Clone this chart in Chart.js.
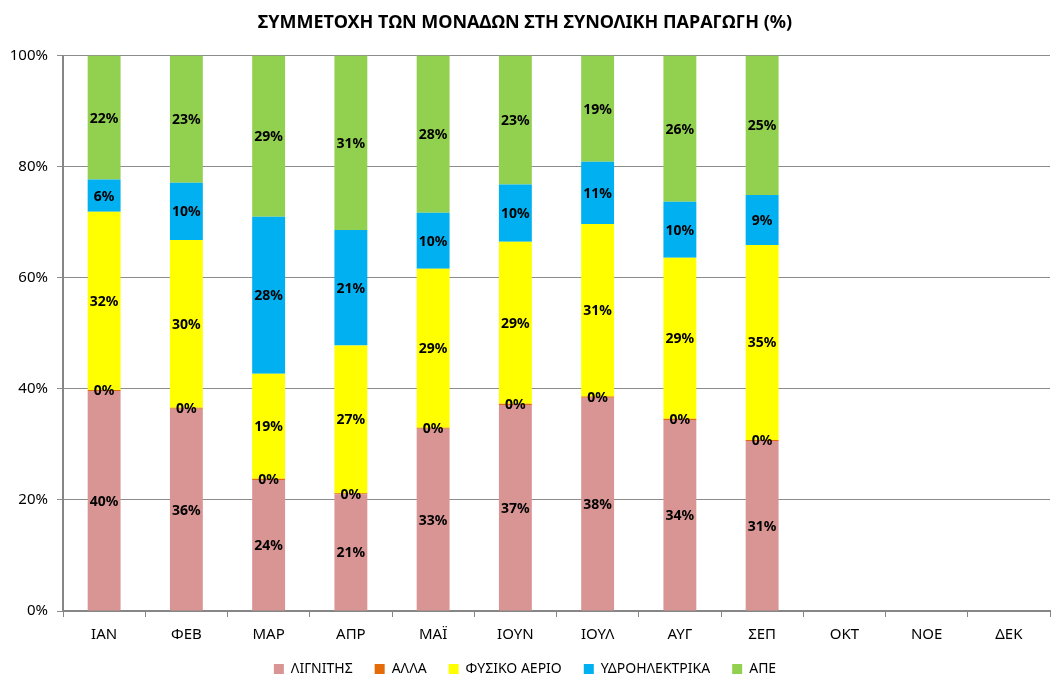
<!DOCTYPE html>
<html>
<head>
<meta charset="utf-8">
<script src="https://cdn.jsdelivr.net/npm/chart.js@4.4.0/dist/chart.umd.min.js"></script>
<style>
  html, body { margin: 0; padding: 0; background: #fff; }
  #wrap { width: 1051px; height: 677px; }
</style>
</head>
<body>
<div id="wrap"><canvas id="chart"></canvas></div>
<script>
const months = ['ΙΑΝ', 'ΦΕΒ', 'ΜΑΡ', 'ΑΠΡ', 'ΜΑΪ', 'ΙΟΥΝ', 'ΙΟΥΛ', 'ΑΥΓ', 'ΣΕΠ', 'ΟΚΤ', 'ΝΟΕ', 'ΔΕΚ'];
const lignite = [39.6, 36.4, 23.6, 21.0, 32.8, 37.1, 38.4, 34.4, 30.6, null, null, null];
const other   = [0.2, 0.2, 0.2, 0.2, 0.2, 0.2, 0.2, 0.2, 0.2, null, null, null];
const gas     = [32.1, 30.2, 18.9, 26.6, 28.6, 29.2, 31.1, 29.0, 35.1, null, null, null];
const hydro   = [5.8, 10.3, 28.3, 20.8, 10.1, 10.3, 11.2, 10.1, 9.0, null, null, null];
const res     = [22.3, 22.9, 29.0, 31.4, 28.3, 23.2, 19.1, 26.3, 25.1, null, null, null];
const yTicks  = ['0%', '20%', '40%', '60%', '80%', '100%'];

const FONT = "'Noto Sans', 'DejaVu Sans', sans-serif";

// percentage labels drawn in the middle of each segment
const segLabels = {
  id: 'segLabels',
  afterDatasetsDraw(chart) {
    const ctx = chart.ctx;
    ctx.save();
    ctx.font = `bold 14px ${FONT}`;
    ctx.fillStyle = '#000';
    ctx.textAlign = 'center';
    ctx.textBaseline = 'middle';
    chart.data.datasets.forEach((ds, i) => {
      const meta = chart.getDatasetMeta(i);
      meta.data.forEach((bar, j) => {
        const v = ds.data[j];
        if (v == null) return;
        const y = (bar.y + bar.base) / 2;
        ctx.fillText(Math.round(v) + '%', bar.x, y + 1);
      });
    });
    ctx.restore();
  }
};

new Chart(document.getElementById('chart'), {
  type: 'bar',
  data: {
    labels: months,
    datasets: [
      { label: 'ΛΙΓΝΙΤΗΣ', data: lignite, backgroundColor: '#D99594' },
      { label: 'ΑΛΛΑ', data: other, backgroundColor: '#E36C09' },
      { label: 'ΦΥΣΙΚΟ ΑΕΡΙΟ', data: gas, backgroundColor: '#FFFF00' },
      { label: 'ΥΔΡΟΗΛΕΚΤΡΙΚΑ', data: hydro, backgroundColor: '#00B0F0' },
      { label: 'ΑΠΕ', data: res, backgroundColor: '#92D050' }
    ]
  },
  options: {
    responsive: true,
    maintainAspectRatio: false,
    animation: false,
    categoryPercentage: 1,
    barPercentage: 0.4,
    layout: { padding: { top: 12, right: 1, left: 0, bottom: -9 } },
    plugins: {
      title: {
        display: true,
        text: 'ΣΥΜΜΕΤΟΧΗ ΤΩΝ ΜΟΝΑΔΩΝ ΣΤΗ ΣΥΝΟΛΙΚΗ ΠΑΡΑΓΩΓΗ (%)',
        color: '#000',
        font: { family: FONT, size: 18, weight: 'bold' },
        padding: { top: 0, bottom: 22 }
      },
      legend: {
        position: 'bottom',
        labels: {
          color: '#000',
          font: { family: FONT, size: 14 },
          boxWidth: 10,
          boxHeight: 10,
          padding: 22
        }
      },
      tooltip: { enabled: false }
    },
    scales: {
      x: {
        stacked: true,
        afterFit(scale) { scale.height = 29; },
        grid: { offset: true, drawOnChartArea: false, drawTicks: true, tickLength: 6, color: '#868686' },
        border: { color: '#868686', width: 2 },
        ticks: { color: '#000', font: { family: FONT, size: 15 }, padding: 9, maxRotation: 0 }
      },
      y: {
        stacked: true,
        min: 0,
        max: 100,
        afterFit(scale) { scale.width = 63; },
        grid: { color: '#8c8c8c', tickLength: 6 },
        border: { color: '#868686', width: 2 },
        ticks: {
          stepSize: 20,
          color: '#000',
          font: { family: FONT, size: 15 },
          padding: 9,
          callback: (v) => yTicks[v / 20]
        }
      }
    }
  },
  plugins: [segLabels]
});
</script>
</body>
</html>
